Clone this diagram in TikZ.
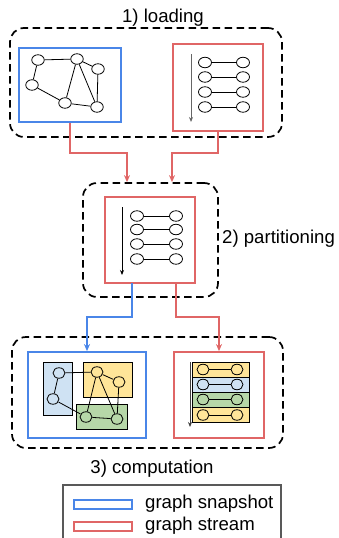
\documentclass[tikz,border=0pt]{standalone}
\usepackage{fontspec}
\setmainfont{Liberation Sans}
\usetikzlibrary{shapes.geometric,arrows.meta,calc}
\definecolor{gblue}{HTML}{4A86E8}
\definecolor{gred}{HTML}{E06666}
\definecolor{fyel}{HTML}{FFE599}
\definecolor{fblu}{HTML}{CFE2F3}
\definecolor{fgrn}{HTML}{B6D7A8}
\tikzset{
  stagebox/.style={draw, dash pattern=on 7.5pt off 4.5pt, line width=1.7pt, rounded corners=14pt},
  snapbox/.style={draw=gblue, line width=1.8pt, inner sep=0pt},
  streambox/.style={draw=gred, line width=1.8pt, inner sep=0pt},
  el/.style={ellipse, draw, line width=0.8pt, inner sep=0pt, minimum width=12.5pt, minimum height=10.5pt},
  eg/.style={line width=0.8pt},
  part/.style={draw, line width=0.8pt, inner sep=0pt},
  timearrow/.style={line width=1pt, -{Stealth[length=5pt,width=4pt]}},
  redarrow/.style={draw=gred, line width=1.5pt, -{Stealth[length=7pt,width=6pt]}},
  bluearrow/.style={draw=gblue, line width=1.5pt, -{Stealth[length=7pt,width=6pt]}},
  lbl/.style={font=\fontsize{18.6}{22}\selectfont, inner sep=0pt}
}
\begin{document}
\begin{tikzpicture}[x={(1pt,0)}, y={(0,-1pt)}]
\useasboundingbox (0,0) rectangle (338,538);

% ---------- 1) loading ----------
\node[lbl, anchor=base] (t1) at (163,23) {1) loading};
\node[stagebox, minimum width=272pt, minimum height=109pt] (load) at (146,82.5) {};
\node[snapbox, minimum width=102pt, minimum height=74pt] (snap1) at (70,85) {};
\node[streambox, minimum width=90pt, minimum height=87pt] (str1) at (218,87.5) {};

\node[el] (g1) at (38,60) {};
\node[el] (g2) at (77,59) {};
\node[el] (g3) at (98,69) {};
\node[el] (g4) at (32,85) {};
\node[el] (g5) at (65,103) {};
\node[el] (g6) at (97,107) {};
\draw[eg] (g1)--(g2) (g1)--(g4) (g4)--(g5) (g5)--(g2) (g2)--(g6) (g2)--(g3) (g3)--(g6) (g5)--(g6);

\coordinate (a1s) at (191,54);
\coordinate (a1e) at (191,122);
\draw[timearrow, draw=black!60, fill=black!60] (a1s) -- (a1e);
\foreach \i/\y in {1/62.5,2/77,3/92,4/107}{
  \node[el, minimum width=13pt] (sa\i) at (205,\y) {};
  \node[el, minimum width=13pt] (sb\i) at (243,\y) {};
  \draw[eg] (sa\i) -- (sb\i);
}

% ---------- 2) partitioning ----------
\node[stagebox, minimum width=135pt, minimum height=114pt] (pdash) at (150.5,240) {};
\node[streambox, minimum width=90pt, minimum height=86pt] (pbox) at (150,240) {};
\node[lbl, anchor=base west] (t2) at (222,243) {2) partitioning};

\coordinate (a2s) at (122,207);
\coordinate (a2e) at (122,275);
\draw[timearrow] (a2s) -- (a2e);
\foreach \i/\y in {1/216,2/229.5,3/244,4/259}{
  \node[el, minimum width=13pt] (pa\i) at (137,\y) {};
  \node[el, minimum width=13pt] (pb\i) at (176,\y) {};
  \draw[eg] (pa\i) -- (pb\i);
}

% connectors loading -> partitioning
\coordinate (j1) at (127,153);
\coordinate (j2) at (172,153);
\draw[redarrow] (snap1.south) |- (j1) -- (j1 |- pdash.north);
\draw[redarrow] (str1.south) |- (j2) -- (j2 |- pdash.north);

% ---------- 3) computation ----------
\node[stagebox, minimum width=271pt, minimum height=111pt] (comp) at (147.5,392.5) {};
\node[snapbox, minimum width=118pt, minimum height=86pt] (snap3) at (87,395) {};
\node[streambox, minimum width=90pt, minimum height=86pt] (str3) at (219,395) {};
\node[lbl, anchor=base] (t3) at (152,473) {3) computation};

% connectors partitioning -> computation
\coordinate (p1) at (132,283);
\coordinate (p2) at (176,283);
\coordinate (j3) at (87,317);
\coordinate (j4) at (219,317);
\draw[bluearrow] (p1) |- (j3) -- (snap3.north);
\draw[redarrow] (p2) |- (j4) -- (str3.north);

% partitions of the snapshot
\node[part, fill=fblu, minimum width=29pt, minimum height=53pt] (pb) at (57.5,388.5) {};
\node[part, fill=fyel, minimum width=49pt, minimum height=35pt] (py) at (107.5,379.5) {};
\node[part, fill=fgrn, minimum width=51pt, minimum height=25pt] (pg) at (101.5,416.5) {};

\node[el, minimum width=12pt] (c1) at (59,373) {};
\node[el, minimum width=12pt] (c2) at (53,399) {};
\node[el, minimum width=12pt] (c3) at (97,372) {};
\node[el, minimum width=12pt] (c4) at (119,382) {};
\node[el, minimum width=12pt] (c5) at (86,417) {};
\node[el, minimum width=12pt] (c6) at (117,419) {};
\draw[eg] (c1)--(c3) (c1)--(c2) (c2)--(c5) (c3)--(c5) (c3)--(c6) (c3)--(c4) (c4)--(c6) (c5)--(c6);

% partitioned stream
\foreach \i/\y/\c in {1/369.5/fyel,2/384.5/fblu,3/399.5/fgrn,4/415/fyel}{
  \node[part, fill=\c, minimum width=57pt, minimum height=15pt] (row\i) at (220.5,\y) {};
}
\coordinate (a3s) at (190,362);
\coordinate (a3e) at (190,427);
\draw[timearrow, draw=black!75, fill=black!75] (a3s) -- (a3e);
\foreach \i/\y in {1/369.5,2/384.5,3/399.5,4/415}{
  \node[el, minimum width=12pt] (ca\i) at (203,\y) {};
  \node[el, minimum width=12pt] (cb\i) at (237,\y) {};
  \draw[eg] (ca\i) -- (cb\i);
}

% ---------- legend ----------
\node[draw=black!65, line width=1.2pt, minimum width=218pt, minimum height=64pt, inner sep=0pt] (leg) at (172,517) {};
\node[draw=gblue, line width=1.8pt, minimum width=58pt, minimum height=9pt, inner sep=0pt] (lb) at (103,504.5) {};
\node[draw=gred, line width=1.8pt, minimum width=58pt, minimum height=9pt, inner sep=0pt] (lr) at (103,526.5) {};
\node[lbl, anchor=base west] (tl1) at (145,508) {graph snapshot};
\node[lbl, anchor=base west] (tl2) at (145,530) {graph stream};
\end{tikzpicture}
\end{document}
